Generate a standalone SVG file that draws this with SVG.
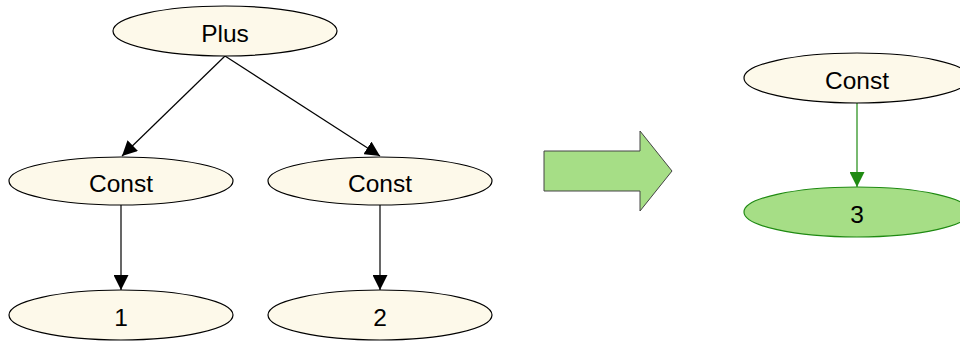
<svg xmlns="http://www.w3.org/2000/svg" width="960" height="342" viewBox="0 0 960 342">
<style>
.n ellipse{fill:#fdf9ea;stroke:#000;stroke-width:1.2}
.g ellipse{fill:#a6de86;stroke:#1f8a12;stroke-width:1.2}
text{font-family:"Liberation Sans",Arial,sans-serif;font-size:24.5px;fill:#000;text-anchor:middle}
.e line{stroke:#000;stroke-width:1.2}
.e line.gr{stroke:#1f8a12}
</style>
<defs>
<marker id="ah" viewBox="0 0 10 10" refX="10" refY="5" markerWidth="15" markerHeight="15" markerUnits="userSpaceOnUse" orient="auto"><path d="M0,0 L10,5 L0,10 z" fill="#000"/></marker>
<marker id="ahg" viewBox="0 0 10 10" refX="10" refY="5" markerWidth="15" markerHeight="15" markerUnits="userSpaceOnUse" orient="auto"><path d="M0,0 L10,5 L0,10 z" fill="#1f8a12"/></marker>
</defs>
<g class="e" id="connectors">
<line x1="225" y1="56" x2="122" y2="156" marker-end="url(#ah)"/>
<line x1="225" y1="56" x2="380" y2="156" marker-end="url(#ah)"/>
<line x1="121" y1="205" x2="121" y2="290" marker-end="url(#ah)"/>
<line x1="380" y1="205" x2="380" y2="290" marker-end="url(#ah)"/>
<line class="gr" x1="857" y1="103" x2="857" y2="187" marker-end="url(#ahg)"/>
</g>
<g class="n" id="plus"><ellipse cx="225" cy="31" rx="112" ry="25"/><text x="225" y="41.5">Plus</text></g>
<g class="n" id="const1"><ellipse cx="121" cy="181" rx="112" ry="24"/><text x="121" y="191.5">Const</text></g>
<g class="n" id="const2"><ellipse cx="380" cy="181" rx="112" ry="24"/><text x="380" y="191.5">Const</text></g>
<g class="n" id="one"><ellipse cx="121" cy="315" rx="112" ry="25"/><text x="121" y="325.5">1</text></g>
<g class="n" id="two"><ellipse cx="380" cy="315" rx="112" ry="25"/><text x="380" y="325.5">2</text></g>
<g id="bigarrow"><path d="M544,151 H640 V131 L672,171 L640,211 V191 H544 Z" fill="#a6de86" stroke="#444" stroke-width="1"/></g>
<g class="n" id="const3"><ellipse cx="857" cy="78" rx="113" ry="25"/><text x="857" y="88.5">Const</text></g>
<g class="g" id="three"><ellipse cx="857" cy="212" rx="113" ry="25"/><text x="857" y="222.5">3</text></g>
</svg>
